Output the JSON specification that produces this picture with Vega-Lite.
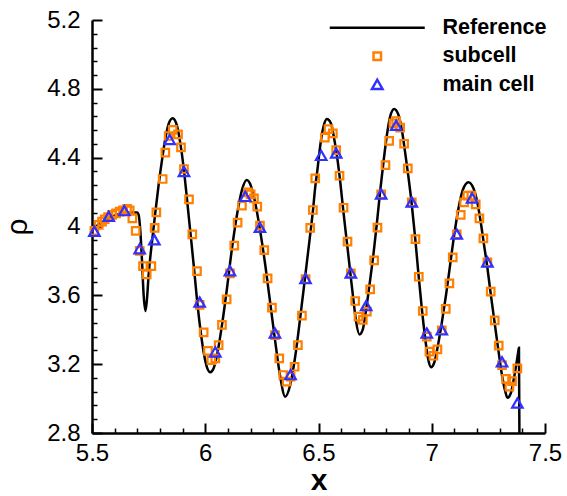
{
  "$schema": "https://vega.github.io/schema/vega-lite/v6.json",
  "width": 453,
  "height": 413,
  "autosize": {"type": "none"},
  "padding": {"left": 92, "top": 20, "right": 22, "bottom": 63},
  "background": "white",
  "config": {"view": {"stroke": null}, "font": "Liberation Sans", "axis": {"grid": false}},
  "datasets": {
    "ref": [
      {"x": 5.500, "rho": 3.985}, {"x": 5.530, "rho": 4.012}, {"x": 5.559, "rho": 4.038}, {"x": 5.589, "rho": 4.057},
      {"x": 5.618, "rho": 4.071}, {"x": 5.647, "rho": 4.078}, {"x": 5.677, "rho": 4.082}, {"x": 5.699, "rho": 4.082},
      {"x": 5.706, "rho": 4.067}, {"x": 5.7135, "rho": 3.970}, {"x": 5.721, "rho": 3.795}, {"x": 5.728, "rho": 3.602},
      {"x": 5.736, "rho": 3.509}, {"x": 5.743, "rho": 3.583}, {"x": 5.750, "rho": 3.718}, {"x": 5.765, "rho": 3.912},
      {"x": 5.780, "rho": 4.086}, {"x": 5.794, "rho": 4.241}, {"x": 5.809, "rho": 4.386}, {"x": 5.824, "rho": 4.512},
      {"x": 5.838, "rho": 4.595}, {"x": 5.856, "rho": 4.629}, {"x": 5.875, "rho": 4.586}, {"x": 5.890, "rho": 4.483},
      {"x": 5.905, "rho": 4.338}, {"x": 5.919, "rho": 4.164}, {"x": 5.934, "rho": 3.970}, {"x": 5.949, "rho": 3.776},
      {"x": 5.963, "rho": 3.583}, {"x": 5.978, "rho": 3.408}, {"x": 5.993, "rho": 3.269}, {"x": 6.008, "rho": 3.180},
      {"x": 6.022, "rho": 3.153}, {"x": 6.037, "rho": 3.176}, {"x": 6.052, "rho": 3.253}, {"x": 6.074, "rho": 3.428},
      {"x": 6.096, "rho": 3.641}, {"x": 6.118, "rho": 3.873}, {"x": 6.140, "rho": 4.067}, {"x": 6.162, "rho": 4.212},
      {"x": 6.183, "rho": 4.270}, {"x": 6.202, "rho": 4.235}, {"x": 6.221, "rho": 4.135}, {"x": 6.243, "rho": 3.970},
      {"x": 6.265, "rho": 3.776}, {"x": 6.287, "rho": 3.554}, {"x": 6.309, "rho": 3.331}, {"x": 6.331, "rho": 3.127},
      {"x": 6.353, "rho": 3.011}, {"x": 6.375, "rho": 3.079}, {"x": 6.397, "rho": 3.243}, {"x": 6.419, "rho": 3.467},
      {"x": 6.441, "rho": 3.708}, {"x": 6.463, "rho": 3.950}, {"x": 6.475, "rho": 4.086}, {"x": 6.485, "rho": 4.222},
      {"x": 6.496, "rho": 4.338}, {"x": 6.508, "rho": 4.473}, {"x": 6.522, "rho": 4.580}, {"x": 6.537, "rho": 4.624},
      {"x": 6.555, "rho": 4.599}, {"x": 6.569, "rho": 4.512}, {"x": 6.581, "rho": 4.415}, {"x": 6.596, "rho": 4.260},
      {"x": 6.610, "rho": 4.086}, {"x": 6.625, "rho": 3.912}, {"x": 6.640, "rho": 3.737}, {"x": 6.655, "rho": 3.563},
      {"x": 6.666, "rho": 3.447}, {"x": 6.681, "rho": 3.373}, {"x": 6.696, "rho": 3.404}, {"x": 6.710, "rho": 3.515},
      {"x": 6.725, "rho": 3.660}, {"x": 6.743, "rho": 3.844}, {"x": 6.757, "rho": 4.009}, {"x": 6.772, "rho": 4.202},
      {"x": 6.787, "rho": 4.376}, {"x": 6.802, "rho": 4.532}, {"x": 6.816, "rho": 4.638}, {"x": 6.834, "rho": 4.683},
      {"x": 6.852, "rho": 4.652}, {"x": 6.868, "rho": 4.561}, {"x": 6.882, "rho": 4.435}, {"x": 6.897, "rho": 4.289},
      {"x": 6.912, "rho": 4.125}, {"x": 6.927, "rho": 3.931}, {"x": 6.941, "rho": 3.728}, {"x": 6.956, "rho": 3.525},
      {"x": 6.971, "rho": 3.350}, {"x": 6.985, "rho": 3.224}, {"x": 6.997, "rho": 3.182}, {"x": 7.010, "rho": 3.205},
      {"x": 7.025, "rho": 3.292}, {"x": 7.044, "rho": 3.437}, {"x": 7.063, "rho": 3.602}, {"x": 7.081, "rho": 3.776},
      {"x": 7.099, "rho": 3.950}, {"x": 7.118, "rho": 4.105}, {"x": 7.137, "rho": 4.212}, {"x": 7.162, "rho": 4.257},
      {"x": 7.184, "rho": 4.222}, {"x": 7.202, "rho": 4.135}, {"x": 7.216, "rho": 4.028}, {"x": 7.231, "rho": 3.892},
      {"x": 7.246, "rho": 3.757}, {"x": 7.260, "rho": 3.612}, {"x": 7.275, "rho": 3.466}, {"x": 7.293, "rho": 3.292},
      {"x": 7.310, "rho": 3.137}, {"x": 7.325, "rho": 3.040}, {"x": 7.334, "rho": 3.005}, {"x": 7.349, "rho": 3.031},
      {"x": 7.363, "rho": 3.118}, {"x": 7.375, "rho": 3.214}, {"x": 7.382, "rho": 3.273}, {"x": 7.385, "rho": 3.296},
      {"x": 7.387, "rho": 2.80}
    ],
    "sub": [
      {"x": 5.5106, "rho": 3.974}, {"x": 5.5297, "rho": 4.009}, {"x": 5.5444, "rho": 4.028}, {"x": 5.5562, "rho": 4.042},
      {"x": 5.5709, "rho": 4.055}, {"x": 5.5885, "rho": 4.067}, {"x": 5.6062, "rho": 4.076}, {"x": 5.6223, "rho": 4.086},
      {"x": 5.637, "rho": 4.094}, {"x": 5.6547, "rho": 4.102}, {"x": 5.6665, "rho": 4.094}, {"x": 5.6782, "rho": 4.047},
      {"x": 5.6929, "rho": 3.974}, {"x": 5.7106, "rho": 3.858}, {"x": 5.7253, "rho": 3.770}, {"x": 5.7415, "rho": 3.722},
      {"x": 5.762, "rho": 3.770}, {"x": 5.7767, "rho": 3.992}, {"x": 5.7841, "rho": 4.082}, {"x": 5.812, "rho": 4.276},
      {"x": 5.8238, "rho": 4.429}, {"x": 5.8385, "rho": 4.526}, {"x": 5.8561, "rho": 4.561}, {"x": 5.8797, "rho": 4.535},
      {"x": 5.8929, "rho": 4.460}, {"x": 5.9061, "rho": 4.334}, {"x": 5.9282, "rho": 4.158}, {"x": 5.9429, "rho": 3.954},
      {"x": 5.9635, "rho": 3.741}, {"x": 5.9753, "rho": 3.544}, {"x": 5.993, "rho": 3.385}, {"x": 6.0121, "rho": 3.277},
      {"x": 6.0268, "rho": 3.224}, {"x": 6.0444, "rho": 3.234}, {"x": 6.0591, "rho": 3.311}, {"x": 6.0738, "rho": 3.428},
      {"x": 6.0944, "rho": 3.577}, {"x": 6.1091, "rho": 3.728}, {"x": 6.1282, "rho": 3.889}, {"x": 6.1429, "rho": 4.022},
      {"x": 6.162, "rho": 4.121}, {"x": 6.1885, "rho": 4.198}, {"x": 6.2003, "rho": 4.187}, {"x": 6.215, "rho": 4.164},
      {"x": 6.2297, "rho": 4.115}, {"x": 6.2415, "rho": 4.005}, {"x": 6.2606, "rho": 3.863}, {"x": 6.2753, "rho": 3.699},
      {"x": 6.2944, "rho": 3.528}, {"x": 6.3077, "rho": 3.369}, {"x": 6.3268, "rho": 3.234}, {"x": 6.3444, "rho": 3.137},
      {"x": 6.3591, "rho": 3.098}, {"x": 6.3768, "rho": 3.127}, {"x": 6.3944, "rho": 3.185}, {"x": 6.4091, "rho": 3.311},
      {"x": 6.4268, "rho": 3.482}, {"x": 6.4429, "rho": 3.695}, {"x": 6.4635, "rho": 3.992}, {"x": 6.4753, "rho": 4.096},
      {"x": 6.4856, "rho": 4.280}, {"x": 6.5281, "rho": 4.516}, {"x": 6.5443, "rho": 4.566}, {"x": 6.5634, "rho": 4.541},
      {"x": 6.5781, "rho": 4.444}, {"x": 6.5928, "rho": 4.295}, {"x": 6.6105, "rho": 4.109}, {"x": 6.6281, "rho": 3.912},
      {"x": 6.6428, "rho": 3.728}, {"x": 6.6619, "rho": 3.567}, {"x": 6.6766, "rho": 3.476}, {"x": 6.6957, "rho": 3.457},
      {"x": 6.7134, "rho": 3.505}, {"x": 6.7281, "rho": 3.635}, {"x": 6.7457, "rho": 3.803}, {"x": 6.7604, "rho": 3.993},
      {"x": 6.7766, "rho": 4.187}, {"x": 6.7957, "rho": 4.357}, {"x": 6.8119, "rho": 4.497}, {"x": 6.831, "rho": 4.599},
      {"x": 6.8428, "rho": 4.613}, {"x": 6.8604, "rho": 4.574}, {"x": 6.878, "rho": 4.481}, {"x": 6.8942, "rho": 4.338},
      {"x": 6.9119, "rho": 4.140}, {"x": 6.9281, "rho": 3.927}, {"x": 6.9428, "rho": 3.708}, {"x": 6.9604, "rho": 3.509},
      {"x": 6.9781, "rho": 3.360}, {"x": 6.9898, "rho": 3.273}, {"x": 7.0075, "rho": 3.249}, {"x": 7.0251, "rho": 3.286},
      {"x": 7.0442, "rho": 3.397}, {"x": 7.0619, "rho": 3.521}, {"x": 7.078, "rho": 3.670}, {"x": 7.0927, "rho": 3.821},
      {"x": 7.1104, "rho": 3.954}, {"x": 7.128, "rho": 4.067}, {"x": 7.1427, "rho": 4.140}, {"x": 7.1574, "rho": 4.179},
      {"x": 7.1751, "rho": 4.179}, {"x": 7.1942, "rho": 4.129}, {"x": 7.2104, "rho": 4.047}, {"x": 7.228, "rho": 3.931},
      {"x": 7.2457, "rho": 3.792}, {"x": 7.2604, "rho": 3.621}, {"x": 7.2781, "rho": 3.455}, {"x": 7.2957, "rho": 3.308},
      {"x": 7.3104, "rho": 3.195}, {"x": 7.3281, "rho": 3.114}, {"x": 7.3428, "rho": 3.069}, {"x": 7.3545, "rho": 3.102},
      {"x": 7.378, "rho": 3.176}
    ],
    "main": [
      {"x": 5.5106, "rho": 3.970}, {"x": 5.5738, "rho": 4.057}, {"x": 5.6429, "rho": 4.090}, {"x": 5.7106, "rho": 3.869},
      {"x": 5.7753, "rho": 3.921}, {"x": 5.8429, "rho": 4.503}, {"x": 5.9061, "rho": 4.318}, {"x": 5.9753, "rho": 3.559},
      {"x": 6.0444, "rho": 3.269}, {"x": 6.109, "rho": 3.741}, {"x": 6.1767, "rho": 4.173}, {"x": 6.2414, "rho": 3.993},
      {"x": 6.3075, "rho": 3.379}, {"x": 6.3766, "rho": 3.137}, {"x": 6.4428, "rho": 3.695}, {"x": 6.5119, "rho": 4.411},
      {"x": 6.5781, "rho": 4.425}, {"x": 6.6428, "rho": 3.728}, {"x": 6.7104, "rho": 3.538}, {"x": 6.7766, "rho": 4.187},
      {"x": 6.8428, "rho": 4.586}, {"x": 6.9119, "rho": 4.140}, {"x": 6.9781, "rho": 3.379}, {"x": 7.0443, "rho": 3.397},
      {"x": 7.1104, "rho": 3.954}, {"x": 7.1781, "rho": 4.164}, {"x": 7.2457, "rho": 3.792}, {"x": 7.3104, "rho": 3.211},
      {"x": 7.378, "rho": 2.972}
    ]
  },
  "layer": [
    {
      "data": {"name": "ref"},
      "transform": [{"calculate": "'Reference'", "as": "series"}],
      "mark": {"type": "line", "strokeWidth": 2.5, "interpolate": "monotone", "clip": true, "color": "black"},
      "encoding": {
        "x": {"field": "x", "type": "quantitative",
          "scale": {"domain": [5.5, 7.5], "nice": false, "zero": false},
          "axis": {"orient": "bottom", "values": [5.5, 6, 6.5, 7, 7.5], "format": "~g",
            "tickSize": -10, "tickWidth": 2, "tickColor": "black", "domainColor": "black", "domainWidth": 2.5,
            "labelFontSize": 24, "labelColor": "black", "labelPadding": 18, "labelFlush": false,
            "title": "x", "titleFontSize": 30, "titleFontWeight": "bold", "titleColor": "black",
            "titleBaseline": "alphabetic", "titleY": 56.5}},
        "y": {"field": "rho", "type": "quantitative",
          "scale": {"domain": [2.8, 5.2], "nice": false, "zero": false},
          "axis": {"orient": "left", "values": [2.8, 3.2, 3.6, 4, 4.4, 4.8, 5.2], "format": "~g",
            "tickSize": -10, "tickWidth": 2, "tickColor": "black", "domainColor": "black", "domainWidth": 2.5,
            "labelFontSize": 24, "labelColor": "black", "labelPadding": 22, "labelFlush": false,
            "title": "ρ", "titleFontSize": 30, "titleFontWeight": "normal", "titleColor": "black", "titlePadding": 14}}
      }
    },
    {
      "data": {"name": "sub"},
      "transform": [{"calculate": "'subcell'", "as": "series"}],
      "mark": {"type": "point", "filled": false, "opacity": 1, "size": 100, "strokeWidth": 2.2},
      "encoding": {
        "x": {"field": "x", "type": "quantitative",
          "axis": {"orient": "bottom", "values": [5.6, 5.7, 5.8, 5.9, 6.1, 6.2, 6.3, 6.4, 6.6, 6.7, 6.8, 6.9, 7.1, 7.2, 7.3, 7.4],
            "tickSize": -5, "tickWidth": 1.5, "tickColor": "black", "labels": false, "domain": false, "title": null}},
        "y": {"field": "rho", "type": "quantitative",
          "axis": {"orient": "left", "values": [2.88, 2.96, 3.04, 3.12, 3.28, 3.36, 3.44, 3.52, 3.68, 3.76, 3.84, 3.92, 4.08, 4.16, 4.24, 4.32, 4.48, 4.56, 4.64, 4.72, 4.88, 4.96, 5.04, 5.12],
            "tickSize": -5, "tickWidth": 1.5, "tickColor": "black", "labels": false, "domain": false, "title": null}},
        "color": {"field": "series", "type": "nominal",
          "scale": {"domain": ["Reference", "subcell", "main cell"], "range": ["black", "#ff8000", "#3030ff"]},
          "legend": {"orient": "none", "legendX": 274.5, "legendY": -3, "title": null, "padding": 0,
            "symbolSize": 100, "symbolStrokeWidth": 2.5, "symbolOpacity": 1,
            "labelFontSize": 21.5, "labelFontWeight": "bold", "labelColor": "black", "labelOffset": 54.5, "rowPadding": 5.5}},
        "shape": {"field": "series", "type": "nominal",
          "scale": {"domain": ["Reference", "subcell", "main cell"],
            "range": ["M-9.5,0H9.5", "M-0.75,-0.75H0.75V0.75H-0.75Z", "M0,-1L1.05,0.85H-1.05Z"]},
          "legend": {"orient": "none", "legendX": 274.5, "legendY": -3, "title": null, "padding": 0,
            "symbolSize": 100, "symbolStrokeWidth": 2.5, "symbolOpacity": 1,
            "labelFontSize": 21.5, "labelFontWeight": "bold", "labelColor": "black", "labelOffset": 54.5, "rowPadding": 5.5}}
      }
    },
    {
      "data": {"name": "main"},
      "transform": [{"calculate": "'main cell'", "as": "series"}],
      "mark": {"type": "point", "filled": false, "opacity": 1, "size": 100, "strokeWidth": 2.2},
      "encoding": {
        "x": {"field": "x", "type": "quantitative", "axis": null},
        "y": {"field": "rho", "type": "quantitative", "axis": null},
        "color": {"field": "series", "type": "nominal", "legend": null},
        "shape": {"field": "series", "type": "nominal", "legend": null}
      }
    }
  ],
  "resolve": {"axis": {"x": "independent", "y": "independent"}}
}
